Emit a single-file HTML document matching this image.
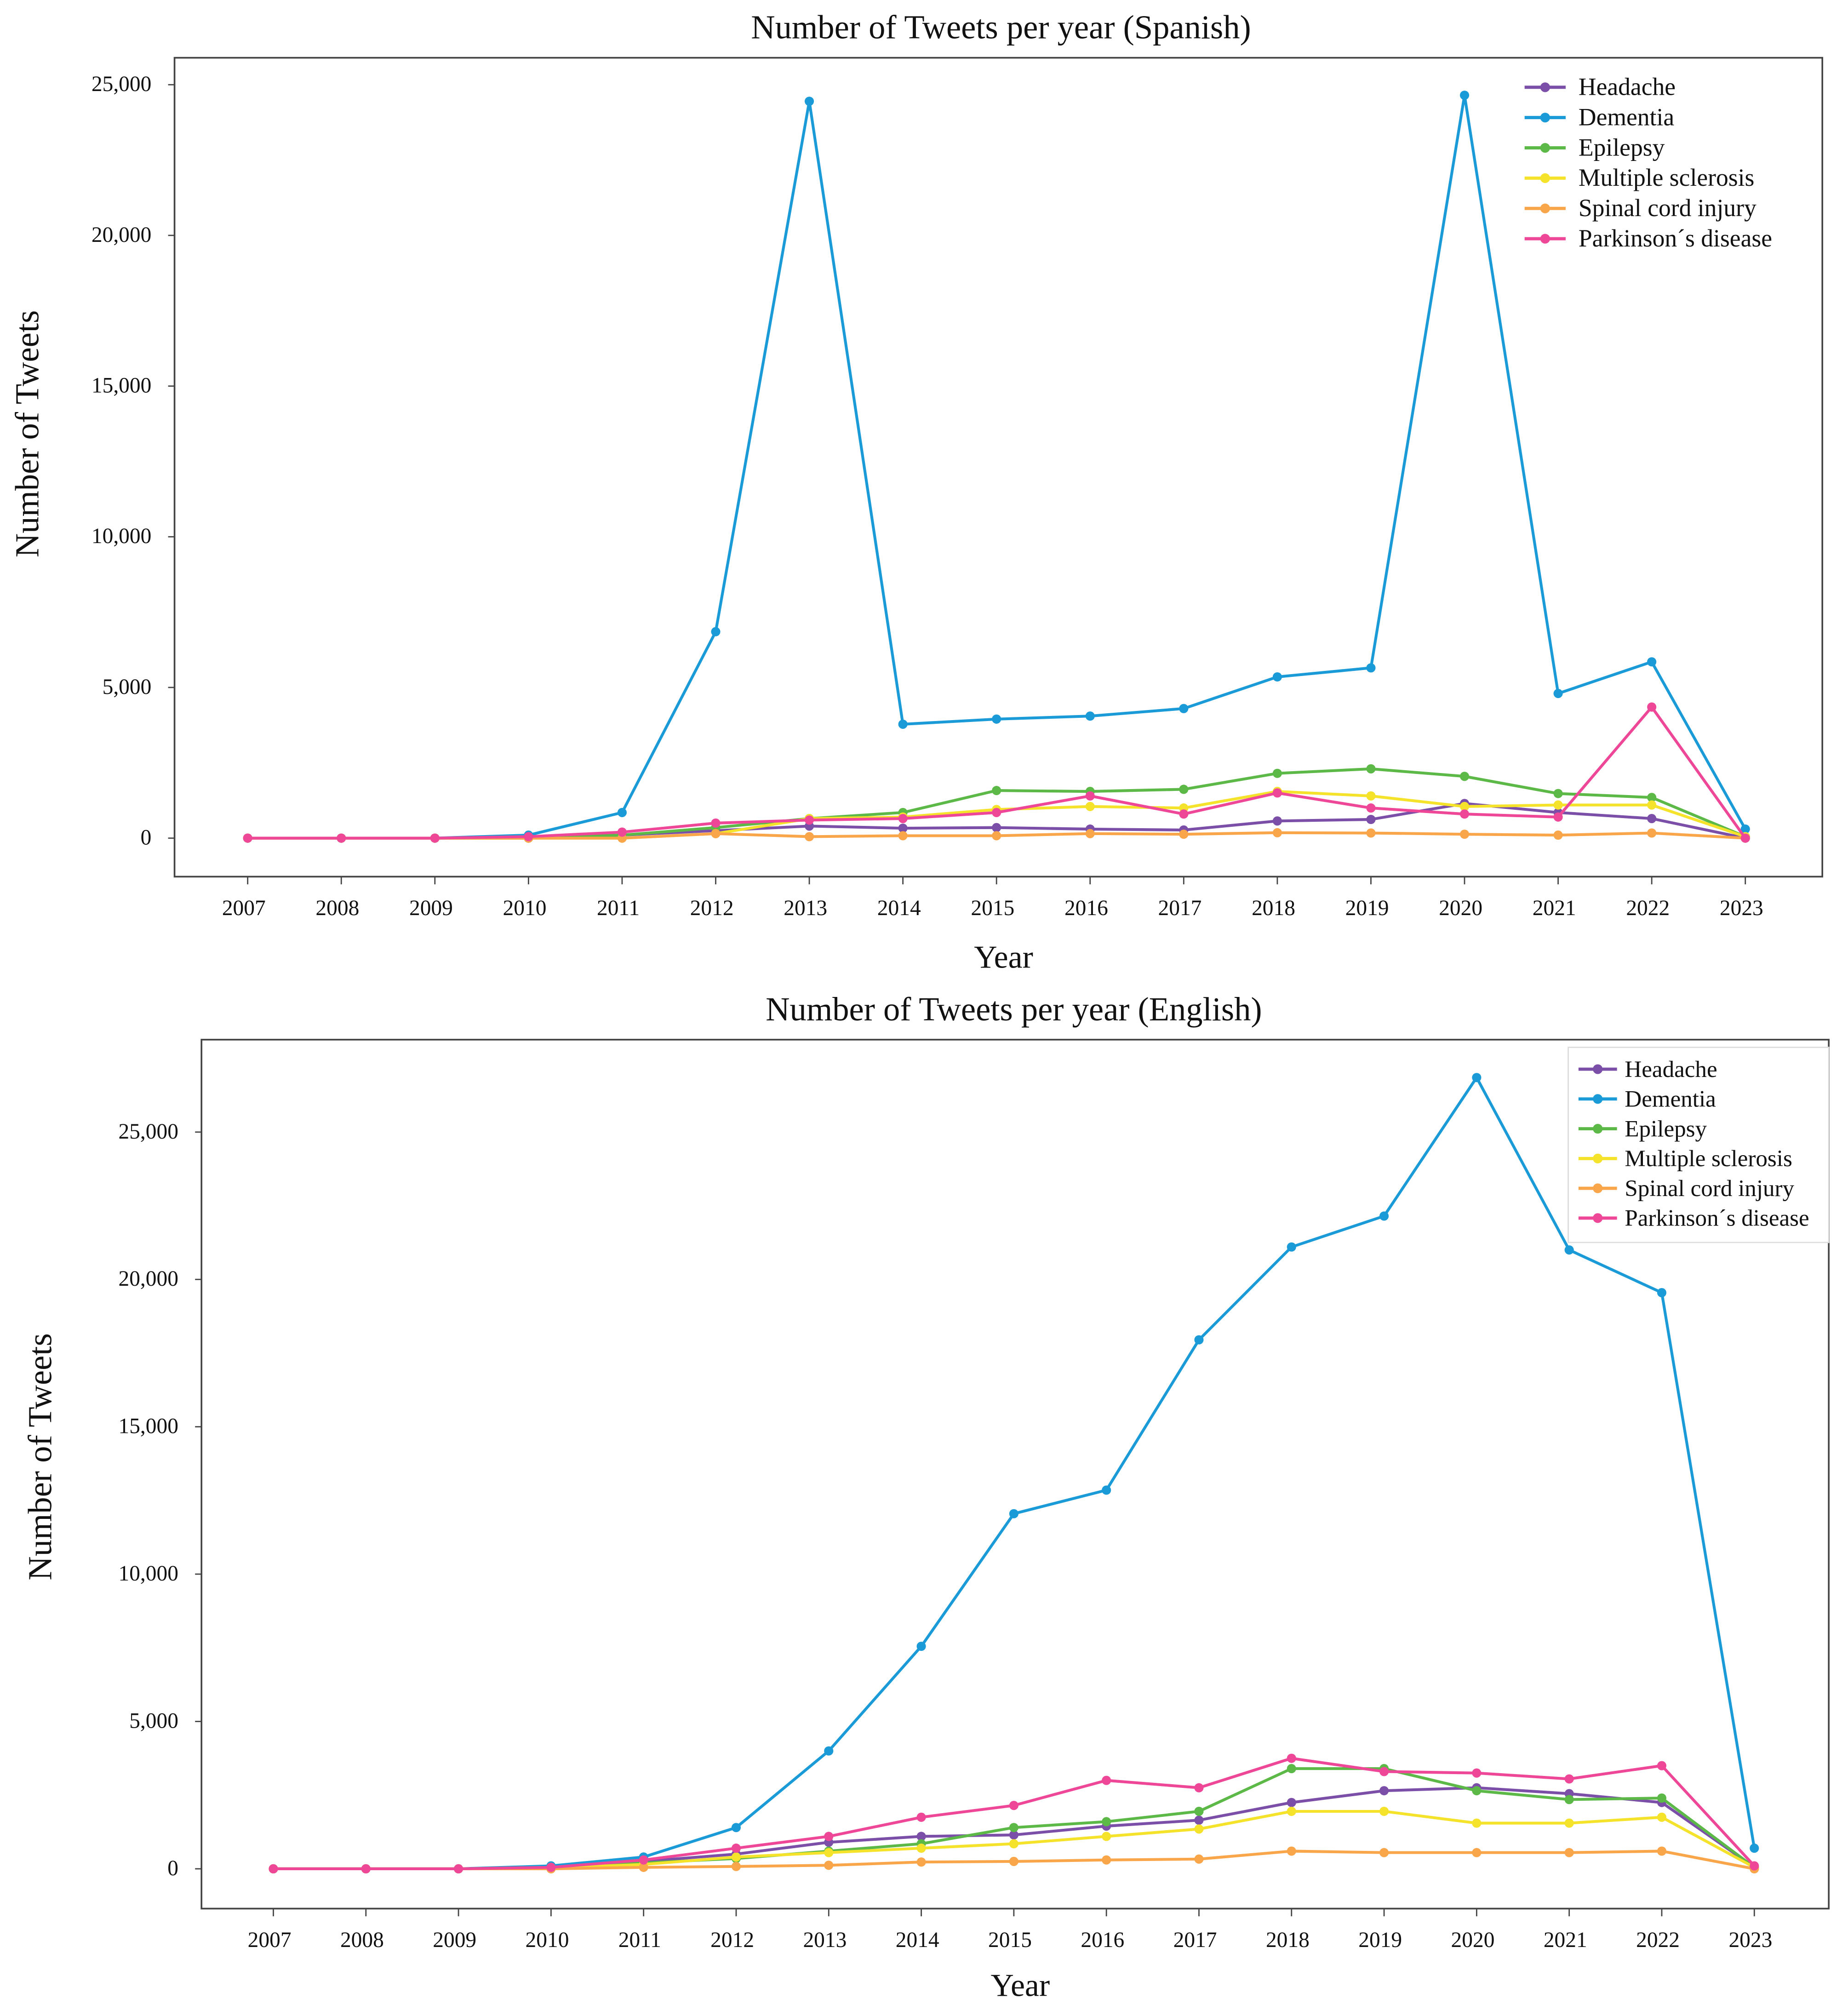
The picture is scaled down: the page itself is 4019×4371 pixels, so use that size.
<!DOCTYPE html>
<html><head><meta charset="utf-8"><style>
html,body{margin:0;padding:0;background:#fff;}
svg{display:block;}
text{font-family:"Liberation Serif",serif;fill:#111;}
</style></head><body>
<svg id="fig" width="4019" height="4371" viewBox="0 0 1440 1566" preserveAspectRatio="none" xmlns="http://www.w3.org/2000/svg"></svg>
<script>
const years=[2007,2008,2009,2010,2011,2012,2013,2014,2015,2016,2017,2018,2019,2020,2021,2022,2023];
const seriesNames=["Headache","Dementia","Epilepsy","Multiple sclerosis","Spinal cord injury","Parkinson\u00b4s disease"];
const colors=["#7b4fa8","#1a9bd7","#5cb947","#f5e22a","#f9a54a","#ee4798"];
const yTicks=[0,5000,10000,15000,20000,25000];
const yTickLabels=["0","5,000","10,000","15,000","20,000","25,000"];
// Spanish
const esHeadache=[0,0,0,0,100,250,400,330,350,300,270,570,620,1150,850,650,0];
const esDementia=[0,0,0,100,850,6850,24450,3780,3950,4050,4300,5350,5650,24650,4800,5850,300];
const esEpilepsy=[0,0,0,0,100,350,650,850,1580,1550,1620,2150,2300,2050,1480,1350,50];
const esMS=[0,0,0,0,0,150,650,700,950,1050,1000,1550,1400,1050,1100,1100,50];
const esSpinal=[0,0,0,0,0,150,50,80,80,150,130,180,170,130,100,170,0];
const esParkinson=[0,0,0,50,200,500,600,650,850,1400,800,1500,1000,800,700,4350,0];
// English
const enHeadache=[0,0,0,50,250,500,900,1100,1150,1450,1650,2250,2650,2750,2550,2250,50];
const enDementia=[0,0,0,100,400,1400,4000,7550,12050,12850,17950,21100,22150,26850,21000,19550,700];
const enEpilepsy=[0,0,0,50,200,350,600,850,1400,1600,1950,3400,3400,2650,2350,2400,50];
const enMS=[0,0,0,30,150,400,550,700,850,1100,1350,1950,1950,1550,1550,1750,50];
const enSpinal=[0,0,0,0,50,80,120,230,250,300,330,600,550,550,550,600,0];
const enParkinson=[0,0,0,50,300,700,1100,1750,2150,3000,2750,3750,3300,3250,3050,3500,100];

const NS="http://www.w3.org/2000/svg";
const svg=document.getElementById('fig');
function mk(tag,attrs,parent,txt){const e=document.createElementNS(NS,tag);for(const k in attrs)e.setAttribute(k,attrs[k]);if(txt!==undefined)e.textContent=txt;(parent||svg).appendChild(e);return e;}

function drawChart(cfg){
  const g=mk('g',{});
  
  
  const xs=i=>cfg.x0+(cfg.x1-cfg.x0)*i/(years.length-1);
  const ys=v=>cfg.y0-(cfg.y0-cfg.y25)*v/25000;
  const t=mk('text',{x:cfg.titleX,y:cfg.titleY,'text-anchor':'middle','font-size':26},g,cfg.title);
  
  
  const fr=mk('rect',{x:cfg.fx,y:cfg.fy,width:cfg.fw,height:cfg.fh,fill:'none',stroke:'#444','stroke-width':1.3},g);
  
  
  yTicks.forEach((v,i)=>{
    const y=ys(v);
    mk('line',{x1:cfg.fx-5,x2:cfg.fx,y1:y,y2:y,stroke:'#444','stroke-width':1},g);
    const tl=mk('text',{x:cfg.fx-18,y:y+5,'text-anchor':'end','font-size':17},g,yTickLabels[i]);
    
    
  });
  years.forEach((yr,i)=>{
    const x=xs(i);
    mk('line',{x1:x,x2:x,y1:cfg.fy+cfg.fh,y2:cfg.fy+cfg.fh+6,stroke:'#444','stroke-width':1},g);
    const tl=mk('text',{x:x-3,y:cfg.fy+cfg.fh+30,'text-anchor':'middle','font-size':17},g,String(yr));
    
    
  });
  const xt=mk('text',{x:cfg.xTitleX,y:cfg.xTitleY,'text-anchor':'middle','font-size':25},g,'Year');
  
  
  const yt=mk('text',{x:0,y:0,'text-anchor':'middle','font-size':26,transform:`translate(${cfg.yTitleX},${cfg.yTitleY}) rotate(-90)`},g,'Number of Tweets');
  
  
  cfg.data.forEach((arr,s)=>{
    const sg=mk('g',{},g);
    
    
    const pts=arr.map((v,i)=>xs(i).toFixed(2)+','+ys(v).toFixed(2)).join(' ');
    mk('polyline',{points:pts,fill:'none',stroke:colors[s],'stroke-width':2.2,'stroke-linejoin':'round'},sg);
    arr.forEach((v,i)=>{
      const c=mk('circle',{cx:xs(i),cy:ys(v),r:3.6,fill:colors[s]},sg);
      
      
    });
  });
  const lg=mk('g',{},g);
  
  
  if(cfg.lgBox){mk('rect',{x:cfg.lgBox[0],y:cfg.lgBox[1],width:cfg.lgBox[2],height:cfg.lgBox[3],fill:'#fff',stroke:'#ddd','stroke-width':1},lg);}
  seriesNames.forEach((n,s)=>{
    const y=cfg.lgY+s*cfg.lgDy;
    const e=mk('g',{},lg);
    
    
    mk('line',{x1:cfg.lgX,x2:cfg.lgX+cfg.lgLen,y1:y,y2:y,stroke:colors[s],'stroke-width':2.5},e);
    mk('circle',{cx:cfg.lgX+cfg.lgLen/2,cy:y,r:3.8,fill:colors[s]},e);
    mk('text',{x:cfg.lgX+cfg.lgTx,y:y+6,'font-size':cfg.lgFs},e,n);
  });
}
drawChart({name:'spanish-chart',title:'Number of Tweets per year (Spanish)',titleX:780,titleY:30,
  fx:136,fy:45,fw:1284,fh:638,x0:193,x1:1360,y0:653,y25:66,
  xTitleX:782,xTitleY:754,yTitleX:30,yTitleY:338,
  data:[esHeadache,esDementia,esEpilepsy,esMS,esSpinal,esParkinson],lgX:1188,lgY:68,lgDy:23.6,lgLen:32,lgTx:42,lgFs:19.2});
drawChart({name:'english-chart',title:'Number of Tweets per year (English)',titleX:790,titleY:795,
  fx:157,fy:810,fw:1268,fh:677,x0:213,x1:1367,y0:1456,y25:882,
  xTitleX:795,xTitleY:1555,yTitleX:40,yTitleY:1135,
  data:[enHeadache,enDementia,enEpilepsy,enMS,enSpinal,enParkinson],lgX:1230,lgY:833,lgDy:23.2,lgLen:30,lgTx:36,lgFs:18.3,
  lgBox:[1222,816,203,152]});
</script>
</body></html>
